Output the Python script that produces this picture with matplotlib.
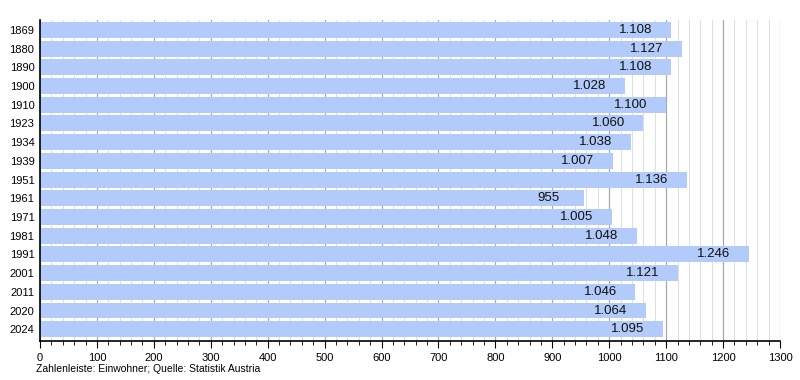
import matplotlib.pyplot as plt
from matplotlib.ticker import MultipleLocator

# Daten: Einwohner nach Jahr
jahre = ['1869', '1880', '1890', '1900', '1910', '1923', '1934', '1939', '1951',
         '1961', '1971', '1981', '1991', '2001', '2011', '2020', '2024']
einwohner = [1108, 1127, 1108, 1028, 1100, 1060, 1038, 1007, 1136,
             955, 1005, 1048, 1246, 1121, 1046, 1064, 1095]

plt.rcParams['font.family'] = ['Liberation Sans', 'DejaVu Sans']

fig = plt.figure(figsize=(8, 3.8), dpi=100)
ax = fig.add_axes([0.05, 0.103, 0.925, 0.844])

pos = list(range(len(jahre)))
ax.barh(pos, einwohner, height=0.85, color='#b3cbfa', zorder=2)

# Werte in die Balken schreiben
for p, v in zip(pos, einwohner):
    txt = f'{v:,}'.replace(',', '.')
    ax.text(v - 62, p, txt, ha='center', va='center', fontsize=9.5,
            color='#111111', zorder=3)

ax.set_xlim(0, 1300)
ax.set_ylim(16.62, -0.52)
ax.set_yticks(pos)
ax.set_yticklabels(jahre, fontsize=8)
ax.tick_params(axis='y', length=0, pad=4)

ax.xaxis.set_major_locator(MultipleLocator(100))
ax.xaxis.set_minor_locator(MultipleLocator(20))
ax.tick_params(axis='x', which='major', length=5, labelsize=8, direction='out')
ax.tick_params(axis='x', which='minor', length=3, direction='out')
ax.grid(axis='x', which='major', color='#aaaaaa', linewidth=0.9, zorder=0)
ax.grid(axis='x', which='minor', color='#dddddd', linewidth=0.7, zorder=0)

for s in ['top', 'right']:
    ax.spines[s].set_visible(False)
ax.spines['left'].set_linewidth(1.2)
ax.spines['bottom'].set_linewidth(1.2)

fig.text(0.045, 0.02, 'Zahlenleiste: Einwohner; Quelle: Statistik Austria', fontsize=7.5)

plt.savefig('out.png', dpi=100)
